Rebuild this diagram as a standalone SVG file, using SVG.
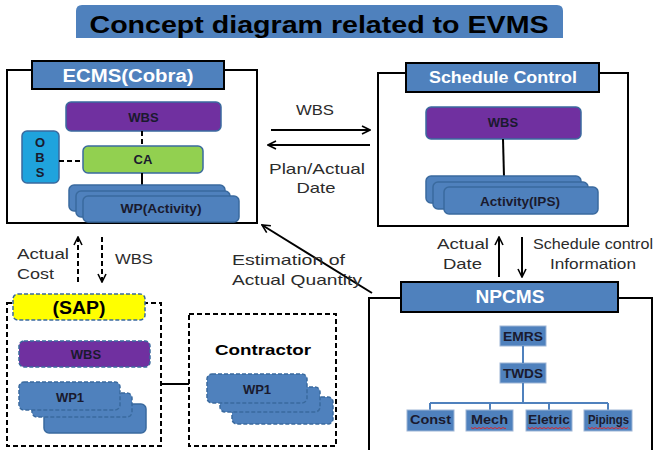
<svg xmlns="http://www.w3.org/2000/svg" width="653" height="450" viewBox="0 0 653 450">
<defs>
<style>
.frame{fill:#fff;stroke:#000;stroke-width:2}
.hdr{fill:#4F81BD;stroke:#000;stroke-width:2}
.hdrt{fill:#fff;font-family:"Liberation Sans",Arial,sans-serif;font-weight:bold;text-anchor:middle}
.blue{fill:#4F81BD;stroke:#3A6A9E;stroke-width:1.5}
.purple{fill:#7030A0;stroke:#3A6A9E;stroke-width:1.5}
.lbl{fill:#1a1a2e;font-family:"Liberation Sans",Arial,sans-serif;font-weight:bold;font-size:13px;text-anchor:middle}
.txt{fill:#2b2b2b;font-family:"Liberation Sans",Arial,sans-serif;font-size:15px}
.dash{stroke-dasharray:5,3}
.ln{stroke:#000;stroke-width:2;fill:none}
.thin{stroke:#2d4f7a;stroke-width:1.5;fill:none}
.sq{stroke:#e02020;stroke-width:0.9;fill:none}
</style>
<marker id="ah" viewBox="0 0 10 10" refX="9" refY="5" markerWidth="10" markerHeight="10" markerUnits="userSpaceOnUse" orient="auto">
<path d="M1,1 L9,5 L1,9" fill="none" stroke="#000" stroke-width="1.6"/>
</marker>
</defs>
<rect width="653" height="450" fill="#fff"/>

<g id="title">
<path d="M76,38 V11 Q76,5 82,5 H557 Q563,5 563,11 V38 Z" fill="#4F81BD"/>
<text x="319" y="33" font-family="'Liberation Sans',Arial,sans-serif" font-weight="bold" font-size="24" text-anchor="middle" fill="#000" textLength="459" lengthAdjust="spacingAndGlyphs">Concept diagram related to EVMS</text>
</g>

<g id="ecms">
<rect class="frame" x="7" y="70" width="250" height="153"/>
<rect class="hdr" x="32" y="61" width="192" height="28"/>
<text class="hdrt" x="128" y="82" font-size="18" textLength="131" lengthAdjust="spacingAndGlyphs">ECMS(Cobra)</text>
<rect class="purple" x="66" y="102" width="155" height="29" rx="5"/>
<text class="lbl" x="143.5" y="122">WBS</text>
<rect x="22" y="131" width="37" height="52" rx="5" fill="#1FA3DD" stroke="#3A6A9E" stroke-width="1.5"/>
<text class="lbl" x="40" y="147">O</text>
<text class="lbl" x="40" y="162">B</text>
<text class="lbl" x="40" y="177">S</text>
<rect x="83" y="146" width="120" height="27" rx="5" fill="#92D050" stroke="#3A6A9E" stroke-width="1.5"/>
<text class="lbl" x="143" y="164">CA</text>
<line x1="59" y1="161" x2="83" y2="161" class="ln dash"/>
<line x1="142" y1="131" x2="142" y2="146" class="ln dash"/>
<line x1="142" y1="173" x2="142" y2="185" class="ln"/>
<rect class="blue" x="69" y="185" width="156" height="26" rx="5"/>
<rect class="blue" x="76" y="191" width="154" height="26" rx="5"/>
<rect class="blue" x="83" y="196" width="156" height="26" rx="5"/>
<text class="lbl" x="161" y="213" textLength="81" lengthAdjust="spacingAndGlyphs">WP(Activity)</text>
</g>

<g id="schedule">
<rect class="frame" x="378" y="73" width="250" height="153"/>
<rect class="hdr" x="406" y="63" width="193" height="29"/>
<text class="hdrt" x="503" y="83" font-size="17" textLength="148" lengthAdjust="spacingAndGlyphs">Schedule Control</text>
<rect class="purple" x="426" y="107" width="155" height="32" rx="5"/>
<text class="lbl" x="503" y="127">WBS</text>
<line x1="503" y1="139" x2="504" y2="177" class="ln"/>
<rect class="blue" x="426" y="176" width="155" height="27" rx="5"/>
<rect class="blue" x="433" y="182" width="155" height="27" rx="5"/>
<rect class="blue" x="444" y="187" width="154" height="27" rx="5"/>
<text class="lbl" x="520" y="206" textLength="80" lengthAdjust="spacingAndGlyphs">Activity(IPS)</text>
</g>

<g id="npcms">
<rect class="frame" x="369" y="298" width="283" height="170"/>
<rect class="hdr" x="401" y="282" width="217" height="30"/>
<text class="hdrt" x="510" y="303" font-size="18" textLength="69" lengthAdjust="spacingAndGlyphs">NPCMS</text>
<rect x="500" y="326" width="46" height="20" fill="#4F81BD" stroke="#9DB5D6" stroke-width="1"/>
<text class="lbl" x="523" y="341" font-size="12" textLength="40" lengthAdjust="spacingAndGlyphs">EMRS</text>
<rect x="500" y="363" width="46" height="20" fill="#4F81BD" stroke="#9DB5D6" stroke-width="1"/>
<text class="lbl" x="523" y="378" font-size="12" textLength="40" lengthAdjust="spacingAndGlyphs">TWDS</text>
<line x1="523" y1="346" x2="523" y2="363" stroke="#4F81BD" stroke-width="2"/>
<path d="M523,383 V403 M430,403 H608 M430,403 V410 M490,403 V410 M549,403 V410 M608,403 V410" stroke="#4F81BD" stroke-width="2" fill="none"/>
<rect x="407" y="410" width="47" height="21" fill="#4F81BD" stroke="#9DB5D6" stroke-width="1"/>
<text class="lbl" x="430.5" y="424" font-size="12" textLength="41" lengthAdjust="spacingAndGlyphs">Const</text>
<rect x="466" y="410" width="47" height="21" fill="#4F81BD" stroke="#9DB5D6" stroke-width="1"/>
<text class="lbl" x="489.5" y="424" font-size="12" textLength="37" lengthAdjust="spacingAndGlyphs">Mech</text>
<rect x="526" y="410" width="46" height="21" fill="#4F81BD" stroke="#9DB5D6" stroke-width="1"/>
<text class="lbl" x="549" y="424" font-size="12" textLength="42" lengthAdjust="spacingAndGlyphs">Eletric</text>
<rect x="584" y="410" width="48" height="21" fill="#4F81BD" stroke="#9DB5D6" stroke-width="1"/>
<text class="lbl" x="608.5" y="424" font-size="12" textLength="41" lengthAdjust="spacingAndGlyphs">Pipings</text>
<path class="sq" d="M471,427.5 l2,1.2 l2,-1.2 l2,1.2 l2,-1.2 l2,1.2 l2,-1.2 l2,1.2 l2,-1.2 l2,1.2 l2,-1.2 l2,1.2 l2,-1.2 l2,1.2 l2,-1.2 l2,1.2 l2,-1.2 l2,1.2 l1,-0.6"/>
<path class="sq" d="M528,427.5 l2,1.2 l2,-1.2 l2,1.2 l2,-1.2 l2,1.2 l2,-1.2 l2,1.2 l2,-1.2 l2,1.2 l2,-1.2 l2,1.2 l2,-1.2 l2,1.2 l2,-1.2 l2,1.2 l2,-1.2 l2,1.2 l2,-1.2 l2,1.2 l2,-1.2 l2,1.2"/>
<path class="sq" d="M588,427.5 l2,1.2 l2,-1.2 l2,1.2 l2,-1.2 l2,1.2 l2,-1.2 l2,1.2 l2,-1.2 l2,1.2 l2,-1.2 l2,1.2 l2,-1.2 l2,1.2 l2,-1.2 l2,1.2 l2,-1.2 l2,1.2 l2,-1.2 l2,1.2 l2,-1.2"/>
</g>

<g id="sap">
<rect x="7" y="303" width="154" height="143" fill="none" stroke="#000" stroke-width="2" class="dash"/>
<rect x="13" y="294" width="132" height="26" rx="5" fill="#FFFF00" stroke="#3A6A9E" stroke-width="1.5" stroke-dasharray="4,2"/>
<text x="79" y="314" font-family="'Liberation Sans',Arial,sans-serif" font-weight="bold" font-size="18" text-anchor="middle" fill="#000" textLength="53" lengthAdjust="spacingAndGlyphs">(SAP)</text>
<rect x="19" y="341" width="131" height="26" rx="5" fill="#7030A0" stroke="#3A6A9E" stroke-width="1.5" stroke-dasharray="4,2"/>
<text class="lbl" x="86" y="359">WBS</text>
<rect x="44" y="404" width="102" height="29" rx="5" fill="#4F81BD" stroke="#3A6A9E" stroke-width="1.5"/>
<rect x="32" y="393" width="100" height="24" rx="5" fill="#4F81BD" stroke="#3A6A9E" stroke-width="1.5" stroke-dasharray="4,2"/>
<rect x="19" y="382" width="101" height="28" rx="5" fill="#4F81BD" stroke="#3A6A9E" stroke-width="1.5" stroke-dasharray="4,2"/>
<text class="lbl" x="70" y="402">WP1</text>
</g>

<g id="contractor">
<rect x="189" y="314" width="147" height="132" fill="none" stroke="#000" stroke-width="2" class="dash"/>
<text x="263" y="355" font-family="'Liberation Sans',Arial,sans-serif" font-weight="bold" font-size="15" text-anchor="middle" fill="#000" textLength="96" lengthAdjust="spacingAndGlyphs">Contractor</text>
<rect x="232" y="397" width="101" height="27" rx="5" fill="#4F81BD" stroke="#3A6A9E" stroke-width="1.5" stroke-dasharray="4,2"/>
<rect x="220" y="387" width="100" height="25" rx="5" fill="#4F81BD" stroke="#3A6A9E" stroke-width="1.5" stroke-dasharray="4,2"/>
<rect x="207" y="374" width="100" height="29" rx="5" fill="#4F81BD" stroke="#3A6A9E" stroke-width="1.5" stroke-dasharray="4,2"/>
<text class="lbl" x="257" y="394">WP1</text>
</g>

<g id="connectors">
<line x1="271" y1="130" x2="370" y2="130" class="ln" marker-end="url(#ah)"/>
<line x1="370" y1="145" x2="268" y2="145" class="ln" marker-end="url(#ah)"/>
<line x1="78" y1="282" x2="78" y2="237" class="ln dash" marker-end="url(#ah)"/>
<line x1="102" y1="237" x2="102" y2="282" class="ln dash" marker-end="url(#ah)"/>
<line x1="499" y1="277" x2="499" y2="237" class="ln" marker-end="url(#ah)"/>
<line x1="522" y1="237" x2="522" y2="277" class="ln" marker-end="url(#ah)"/>
<line x1="372" y1="293" x2="262" y2="225" class="ln" marker-end="url(#ah)"/>
<line x1="161" y1="384" x2="189" y2="384" class="ln"/>
</g>

<g id="labels">
<text class="txt" x="315" y="115" text-anchor="middle" textLength="38" lengthAdjust="spacingAndGlyphs">WBS</text>
<text class="txt" x="317" y="174" text-anchor="middle" textLength="96" lengthAdjust="spacingAndGlyphs">Plan/Actual</text>
<text class="txt" x="316" y="193" text-anchor="middle" textLength="39" lengthAdjust="spacingAndGlyphs">Date</text>
<text class="txt" x="17" y="259" textLength="52" lengthAdjust="spacingAndGlyphs">Actual</text>
<text class="txt" x="17" y="279" textLength="37" lengthAdjust="spacingAndGlyphs">Cost</text>
<text class="txt" x="115" y="264" textLength="38" lengthAdjust="spacingAndGlyphs">WBS</text>
<text class="txt" x="232" y="265" textLength="113" lengthAdjust="spacingAndGlyphs">Estimation of</text>
<text class="txt" x="232" y="285" textLength="130" lengthAdjust="spacingAndGlyphs">Actual Quantity</text>
<text class="txt" x="437" y="249" textLength="52" lengthAdjust="spacingAndGlyphs">Actual</text>
<text class="txt" x="443" y="269" textLength="39" lengthAdjust="spacingAndGlyphs">Date</text>
<text class="txt" x="533" y="249" textLength="120" lengthAdjust="spacingAndGlyphs">Schedule control</text>
<text class="txt" x="550" y="269" textLength="86" lengthAdjust="spacingAndGlyphs">Information</text>
</g>
</svg>
